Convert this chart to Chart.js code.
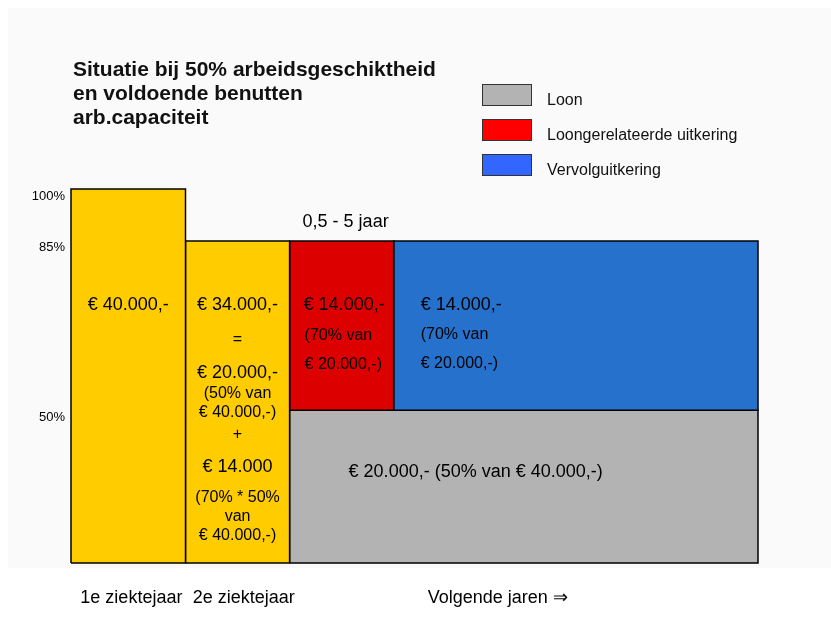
<!DOCTYPE html>
<html lang="nl">
<head>
<meta charset="UTF-8">
<title>Situatie bij 50% arbeidsgeschiktheid</title>
<script src="https://cdn.jsdelivr.net/npm/chart.js@4.4.1/dist/chart.umd.min.js"></script>
<style>
    body {
        margin: 0;
        background: #fff;
        font-family: "Liberation Sans", Arial, sans-serif;
    }

    .wrap {
        position: relative;
        width: 831px;
        height: 629px;
    }

    .panel {
        position: absolute;
        left: 8px;
        top: 8px;
        width: 823px;
        height: 560px;
        background: #fafafa;
    }

    canvas {
        position: absolute;
        left: 0;
        top: 0;
    }

    .title {
        position: absolute;
        left: 73px;
        top: 57px;
        font-weight: bold;
        font-size: 21px;
        line-height: 24px;
        color: #111;
    }

    .legend {
        position: absolute;
        left: 482px;
        top: 84px;
    }

    .legend-item {
        display: flex;
        align-items: center;
        height: 22px;
        margin-bottom: 13px;
        font-size: 16px;
        color: #111;
    }

    .legend-box {
        width: 48px;
        height: 20px;
        border: 1px solid #333;
        margin-right: 15px;
    }

    .legend-item span {
        position: relative;
        top: 5px;
    }
</style>
</head>
<body>
<div class="wrap">
    <div class="panel"></div>
    <canvas id="chart" width="831" height="629"></canvas>
    <div class="title">Situatie bij 50% arbeidsgeschiktheid<br>en voldoende benutten<br>arb.capaciteit</div>
    <div class="legend">
        <div class="legend-item"><div class="legend-box" style="background:#b3b3b3"></div><span>Loon</span></div>
        <div class="legend-item"><div class="legend-box" style="background:#ff0000"></div><span>Loongerelateerde uitkering</span></div>
        <div class="legend-item"><div class="legend-box" style="background:#3366ff"></div><span>Vervolguitkering</span></div>
    </div>
</div>

<script>
    // levels on the y axis (the drawing is not to scale, so a log axis is used)
    const levelValues = [100, 85, 50];
    const levelLabels = ['100%', '85%', '50%'];
    const baseLevel = 31;

    // blocks: 1e jaar, 2e jaar, loongerelateerd, vervolg, loon
    const blockNames = ['1e ziektejaar', '2e ziektejaar', 'Loongerelateerde uitkering', 'Vervolguitkering', 'Loon'];
    const blockFrom = [0, 1.1, 2.1, 3.1, 2.1];
    const blockTo = [1.1, 2.1, 3.1, 6.6, 6.6];
    const blockLow = [31, 31, 50, 50, 31];
    const blockHigh = [100, 85, 85, 85, 50];

    // x axis labels
    const xTickValues = [0.58, 1.66, 4.1];
    const xTickLabels = ['1e ziektejaar', '2e ziektejaar', 'Volgende jaren \u21D2'];

    const blockColors = ['#ffcc00', '#ffcc00', '#dd0000', '#2671cc', '#b3b3b3'];
    const FONT = '"Liberation Sans", Arial, sans-serif';

    const datasets = blockNames.map((name, i) => ({
        label: name,
        data: [
            {x: blockFrom[i], y: blockLow[i]},
            {x: blockFrom[i], y: blockHigh[i]},
            {x: blockTo[i], y: blockHigh[i]},
            {x: blockTo[i], y: blockLow[i]},
            {x: blockFrom[i], y: blockLow[i]}
        ],
        showLine: true,
        fill: 'shape',
        backgroundColor: blockColors[i],
        borderColor: '#000',
        borderWidth: 1.5,
        borderJoinStyle: 'miter',
        pointRadius: 0,
        tension: 0,
        clip: false
    }));

    // text inside the blocks
    const blockText = {
        id: 'blockText',
        afterDatasetsDraw(chart) {
            const {ctx, scales: {x, y}} = chart;
            const top = y.getPixelForValue(85);
            const big = '18px ' + FONT;
            const small = '16px ' + FONT;
            ctx.save();
            ctx.fillStyle = '#000';
            ctx.textBaseline = 'middle';

            function put(text, px, py, font, align) {
                ctx.font = font;
                ctx.textAlign = align;
                ctx.fillText(text, px, py);
            }

            const c1 = (x.getPixelForValue(0) + x.getPixelForValue(1.1)) / 2;
            put('€ 40.000,-', c1, top + 64, big, 'center');

            const c2 = (x.getPixelForValue(1.1) + x.getPixelForValue(2.1)) / 2;
            put('€ 34.000,-', c2, top + 64, big, 'center');
            put('=', c2, top + 99, small, 'center');
            put('€ 20.000,-', c2, top + 132, big, 'center');
            put('(50% van', c2, top + 153, small, 'center');
            put('€ 40.000,-)', c2, top + 172, small, 'center');
            put('+', c2, top + 194, small, 'center');
            put('€ 14.000', c2, top + 226, big, 'center');
            put('(70% * 50%', c2, top + 257, small, 'center');
            put('van', c2, top + 276, small, 'center');
            put('€ 40.000,-)', c2, top + 295, small, 'center');

            const r = x.getPixelForValue(2.1);
            put('0,5 - 5 jaar', r + 13, top - 19, big, 'left');
            put('€ 14.000,-', r + 14, top + 64, big, 'left');
            put('(70% van', r + 15, top + 95, small, 'left');
            put('€ 20.000,-)', r + 15, top + 124, small, 'left');

            const b = x.getPixelForValue(3.1);
            put('€ 14.000,-', b + 27, top + 64, big, 'left');
            put('(70% van', b + 27, top + 94, small, 'left');
            put('€ 20.000,-)', b + 27, top + 123, small, 'left');

            put('€ 20.000,- (50% van € 40.000,-)', r + 59, top + 231, big, 'left');
            ctx.restore();
        }
    };

    new Chart(document.getElementById('chart'), {
        type: 'line',
        data: {datasets: datasets},
        plugins: [blockText],
        options: {
            responsive: false,
            animation: false,
            layout: {padding: {top: 189, right: 73, left: 0, bottom: 0}},
            plugins: {
                legend: {display: false},
                tooltip: {enabled: false}
            },
            scales: {
                x: {
                    type: 'linear',
                    min: 0,
                    max: 6.6,
                    grid: {display: false, drawTicks: false},
                    border: {display: false},
                    afterBuildTicks: s => { s.ticks = xTickValues.map(v => ({value: v})); },
                    afterFit: s => { s.height = 66; },
                    ticks: {
                        padding: 24,
                        autoSkip: false,
                        maxRotation: 0,
                        color: '#000',
                        font: {size: 18, family: FONT},
                        callback: v => xTickLabels[xTickValues.indexOf(v)]
                    }
                },
                y: {
                    type: 'logarithmic',
                    min: baseLevel,
                    max: 100,
                    grid: {display: false, drawTicks: false},
                    border: {display: false},
                    afterBuildTicks: s => { s.ticks = levelValues.map(v => ({value: v})); },
                    afterFit: s => { s.width = 71; },
                    ticks: {
                        padding: 6,
                        labelOffset: 7,
                        color: '#000',
                        font: {size: 13, family: FONT},
                        callback: v => levelLabels[levelValues.indexOf(v)]
                    }
                }
            }
        }
    });
</script>
</body>
</html>
